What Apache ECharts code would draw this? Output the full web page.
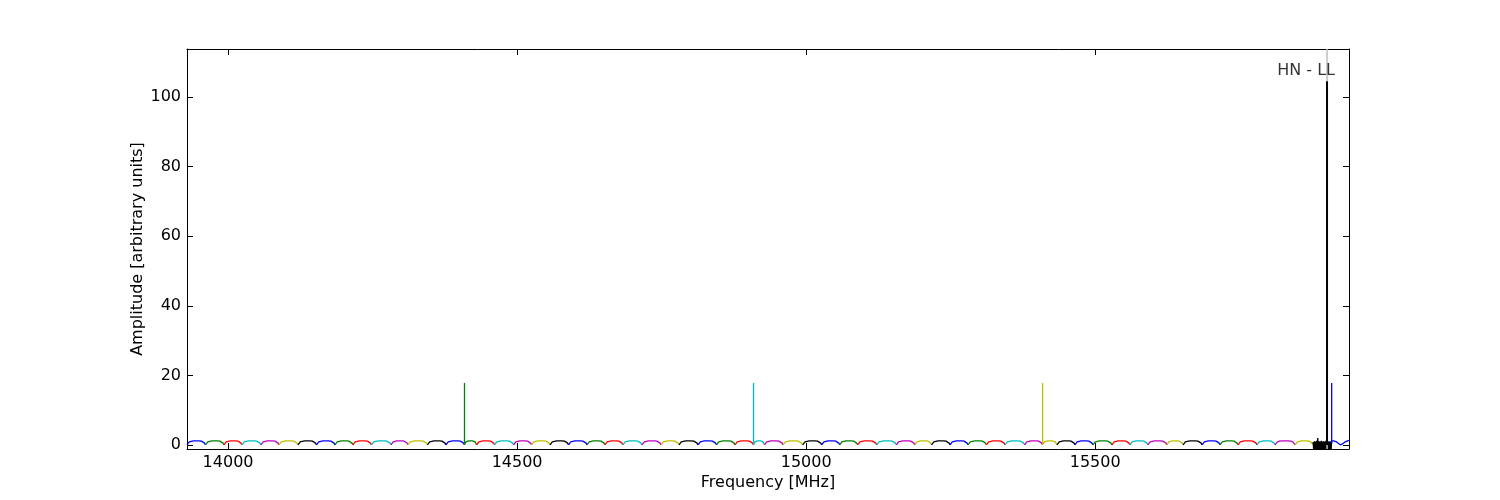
<!DOCTYPE html>
<html>
<head>
<meta charset="utf-8">
<script src="https://cdn.jsdelivr.net/npm/echarts@6/dist/echarts.min.js"></script>
<style>
html,body{margin:0;padding:0;background:#fff;}
#chart{width:1500px;height:500px;}
</style>
</head>
<body>
<div id="chart"></div>
<script>
// ---- data ----
const xTicks = [14000, 14500, 15000, 15500];
const yTicks = [0, 20, 40, 60, 80, 100];
const xRange = [13929, 15939];
const yRange = [-1.15, 113.8];

// sub-band boundaries, MHz (64 sub-bands)
const segmentEdges = [
  13929, 13961, 13993, 14024, 14057, 14088, 14121, 14153, 14185, 14216, 14248, 14282, 14311, 14345, 14377,
  14409, 14430, 14461, 14494, 14525, 14557, 14589, 14621, 14652, 14683, 14716, 14749, 14780, 14813, 14845, 14877,
  14909, 14928, 14960, 14994, 15027, 15058, 15089, 15122, 15156, 15188, 15217, 15249, 15280, 15312, 15344, 15378,
  15409, 15434, 15465, 15496, 15529, 15560, 15591, 15624, 15652, 15685, 15716, 15747, 15780, 15811, 15846, 15877,
  15909, 15939
];
// colour cycle b, g, r, c, m, y, k
const colorCycle = ['#0000ff', '#008000', '#ff0000', '#00bfbf', '#bf00bf', '#bfbf00', '#000000'];

// pass-band profile of one sub-band (fraction of band, amplitude)
const bandShapePos = [0, 0.05, 0.12, 0.22, 0.35, 0.5, 0.65, 0.78, 0.88, 0.95, 1];
const bandShape    = [0.05, 0.55, 0.9, 1.1, 1.2, 1.2, 1.2, 1.1, 0.9, 0.55, 0.05];

// last (partial) blue band
const lastBandPos = [0, 0.12, 0.25, 0.38, 0.5, 0.62, 0.75, 0.88, 1];
const lastBandVal = [1.2, 1.2, 1.0, 0.5, 0.05, 0.3, 0.8, 1.1, 1.35];

// noisy black band 15877-15909 MHz
const noiseFreqs = [15877,15878,15879,15880,15881,15882,15883,15884,15885,15886,15887,15888,15889,15890,15891,15892,15893,15894,15895,15896,15897,15898,15899,15900,15901,15902,15903,15904,15905,15906,15907,15908,15909];
const noiseVals  = [0.9,-1.6,1.1,-1.6,1.0,-1.6,1.2,-1.6,2.0,-1.6,1.1,-1.6,1.0,-1.6,1.2,-1.6,1.0,-1.6,1.1,-1.6,1.0,-1.6,1.2,-1.6,1.0,-1.6,1.1,-1.6,1.0,-1.6,1.1,-1.6,1.2];

// calibration spikes
const spikeFreqs   = [14409, 14909, 15409, 15909];
const spikeHeights = [17.8, 17.8, 17.8, 17.8];
const spikeColorIdx = [1, 3, 5, 0];

// main line
const lineFreq = 15901;
const lineHeight = 104.5;
const lineLabel = 'HN - LL';
const lineLabelY = 107.6;

// ---- build series ----
const FONT = 'DejaVu Sans';
const series = [];
const nSeg = segmentEdges.length - 1;
for (let i = 0; i < nSeg; i++) {
  const a = segmentEdges[i], b = segmentEdges[i + 1];
  let data;
  if (i === nSeg - 1) {
    data = lastBandPos.map((t, k) => [a + t * (b - a), lastBandVal[k]]);
  } else if (i === nSeg - 2) {
    data = noiseFreqs.map((f, k) => [f, noiseVals[k]]);
  } else {
    data = bandShapePos.map((t, k) => [a + t * (b - a), bandShape[k]]);
  }
  series.push({
    type: 'line', data, showSymbol: false, symbol: 'none',
    lineStyle: { color: colorCycle[i % 7], width: 1.3 },
    z: 2, silent: true, animation: false
  });
}
spikeFreqs.forEach((f, k) => {
  series.push({
    type: 'line', data: [[f, 0.4], [f, spikeHeights[k]]], showSymbol: false, symbol: 'none',
    lineStyle: { color: colorCycle[spikeColorIdx[k]], width: 1.3 }, z: 3, silent: true, animation: false
  });
});
// grey marker line over full height
series.push({
  type: 'line', data: [[lineFreq, yRange[0]], [lineFreq, yRange[1]]], showSymbol: false, symbol: 'none',
  lineStyle: { color: '#bfbfbf', width: 1.5 }, z: 2, silent: true, animation: false
});
series.push({
  type: 'line', data: [[lineFreq, 0], [lineFreq, lineHeight]], showSymbol: false, symbol: 'none',
  lineStyle: { color: '#000000', width: 2 }, z: 4, silent: true, animation: false
});
// label of the main line
series.push({
  type: 'scatter', data: [[lineFreq, lineLabelY]], symbol: 'circle', symbolSize: 0,
  itemStyle: { color: '#000000' }, z: 5, silent: true, animation: false,
  label: { show: true, formatter: lineLabel, position: 'left', distance: -8,
           color: '#000000', fontFamily: FONT, fontSize: 16 }
});

const axisCommon = {
  type: 'value',
  axisLine: { show: true, onZero: false, lineStyle: { color: '#000', width: 1 } },
  splitLine: { show: false },
  axisTick: { show: true, inside: true, length: 6, lineStyle: { color: '#000', width: 1 } }
};

const chart = echarts.init(document.getElementById('chart'), null, { renderer: 'canvas' });
chart.setOption({
  animation: false,
  backgroundColor: '#fff',
  grid: { left: 187, top: 49, width: 1162, height: 400, containLabel: false },
  xAxis: [
    Object.assign({}, axisCommon, {
      position: 'bottom', min: xRange[0], max: xRange[1],
      name: 'Frequency [MHz]', nameLocation: 'middle', nameGap: 26, nameMoveOverlap: false,
      nameTextStyle: { color: '#000', fontFamily: FONT, fontSize: 16 },
      axisTick: Object.assign({}, axisCommon.axisTick, { customValues: xTicks }),
      axisLabel: { show: true, customValues: xTicks, formatter: v => String(v),
                   color: '#000', fontFamily: FONT, fontSize: 16, margin: 6 }
    }),
    Object.assign({}, axisCommon, {
      position: 'top', min: xRange[0], max: xRange[1],
      axisTick: Object.assign({}, axisCommon.axisTick, { customValues: xTicks }),
      axisLabel: { show: false }
    })
  ],
  yAxis: [
    Object.assign({}, axisCommon, {
      position: 'left', min: yRange[0], max: yRange[1],
      name: 'Amplitude [arbitrary units]', nameLocation: 'middle', nameGap: 41, nameRotate: 90,
      nameMoveOverlap: false,
      nameTextStyle: { color: '#000', fontFamily: FONT, fontSize: 16 },
      axisTick: Object.assign({}, axisCommon.axisTick, { customValues: yTicks }),
      axisLabel: { show: true, customValues: yTicks, formatter: v => String(v),
                   color: '#000', fontFamily: FONT, fontSize: 16, margin: 6 }
    }),
    Object.assign({}, axisCommon, {
      position: 'right', min: yRange[0], max: yRange[1],
      axisTick: Object.assign({}, axisCommon.axisTick, { customValues: yTicks }),
      axisLabel: { show: false }
    })
  ],
  series: series
});
</script>
</body>
</html>
